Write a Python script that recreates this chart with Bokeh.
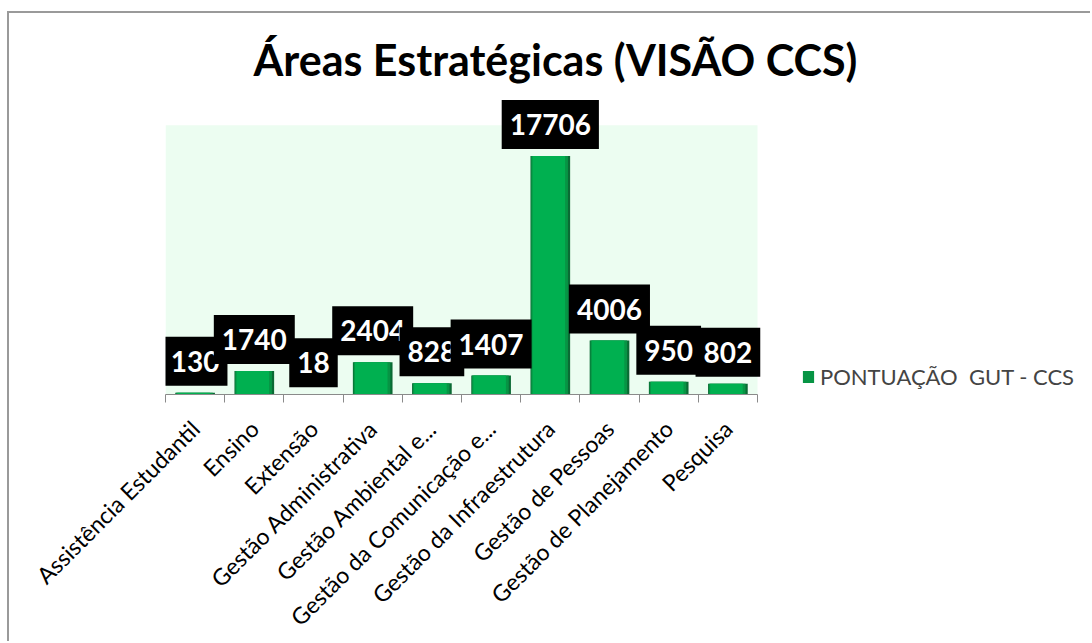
import math
from bokeh.plotting import figure
from bokeh.models import (ColumnDataSource, Range1d, LinearAxis, FixedTicker, Title, Legend,
                          LegendItem, BoxAnnotation)
from bokeh.transform import dodge
from bokeh.core.properties import value
from bokeh.embed import file_html
from bokeh.resources import INLINE

categories = ["Assistência Estudantil", "Ensino", "Extensão", "Gestão Administrativa",
              "Gestão Ambiental e...", "Gestão da Comunicação e...", "Gestão da Infraestrutura",
              "Gestão de Pessoas", "Gestão de Planejamento", "Pesquisa"]
scores = [130, 1740, 18, 2404, 828, 1407, 17706, 4006, 950, 802]
series_name = "PONTUAÇÃO  GUT - CCS"
title_text = "Áreas Estratégicas (VISÃO CCS)"
y_max = 20000

n = len(categories)
centers = [i + 0.5 for i in range(n)]
bounds = list(range(n + 1))
src = ColumnDataSource(dict(x=centers, val=scores, lbl=[str(v) for v in scores]))

# layout (pixels, canvas coords)
W, H = 1083, 630
plot_left, plot_right = 156, 748
frame_top, green_top, frame_bottom = 78, 112, 384
x_end = n * (W - plot_left) / (plot_right - plot_left)
y_end = y_max * (frame_bottom - frame_top) / (frame_bottom - green_top)

p = figure(width=W, height=H, x_range=Range1d(0, x_end), y_range=Range1d(0, y_end),
           output_backend="svg", toolbar_location=None, x_axis_location=None, y_axis_location=None,
           min_border_left=plot_left, min_border_right=0,
           min_border_top=frame_top, min_border_bottom=H - frame_bottom)
p.styles = {"margin-left": "7px", "margin-top": "11px",
            "border-left": "2px solid #9a9a9a", "border-top": "2px solid #9a9a9a"}
p.outline_line_color = None
p.border_fill_color = "white"
p.background_fill_color = "white"
p.xgrid.visible = False
p.ygrid.visible = False

# plot-area background (categories 0..n, values 0..y_max)
p.add_layout(BoxAnnotation(left=0, right=n, bottom=0, top=y_max, fill_color="#ecfdf1",
                           fill_alpha=1, line_color=None, level="underlay"))

# bars: shaded (dark edge, mid tone, bright face)
base = p.vbar(x="x", top="val", width=0.67, source=src, fill_color="#0a6a34", line_color=None)
mid = p.vbar(x=dodge("x", -0.012), top="val", width=0.62, source=src, fill_color="#079444",
             line_color=None)
face = p.vbar(x=dodge("x", -0.025), top="val", width=0.55, source=src, fill_color="#00b050",
              line_color=None)

# data labels (black boxes)
p.text(x="x", y="val", text="lbl", source=src, text_font=value("Lato"), text_font_style="bold",
       text_font_size="28px", text_color="white", text_align="center", text_baseline="bottom",
       y_offset=-7, background_fill_color="black",
       padding=dict(left=8, right=8, top=14, bottom=14))

# category axis: labels at centres, tick marks at category boundaries
xaxis = LinearAxis(ticker=FixedTicker(ticks=centers, minor_ticks=bounds), bounds=(0, n),
                   major_label_overrides={c: name for c, name in zip(centers, categories)},
                   axis_line_color="#8a8a8a", major_tick_line_color=None,
                   major_tick_in=0, major_tick_out=0,
                   minor_tick_in=0, minor_tick_out=8, minor_tick_line_color="#8a8a8a",
                   major_label_orientation=math.pi / 4,
                   major_label_text_font="Lato", major_label_text_font_size="23px",
                   major_label_text_color="black", major_label_standoff=22)
p.add_layout(xaxis, "below")

# title
p.add_layout(Title(text=title_text, align="left", offset=88, standoff=14,
                   text_font="Lato", text_font_style="bold", text_font_size="43px",
                   text_color="black"), "above")

# legend
legend = Legend(items=[LegendItem(label=series_name, renderers=[mid])], location=(636, 4),
                glyph_width=14, glyph_height=15, padding=0, margin=0, border_line_color=None,
                background_fill_alpha=0, label_text_font="Lato", label_text_font_size="22px",
                label_standoff=5)
p.add_layout(legend, "center")

open("out.html", "w").write(file_html(p, INLINE))
